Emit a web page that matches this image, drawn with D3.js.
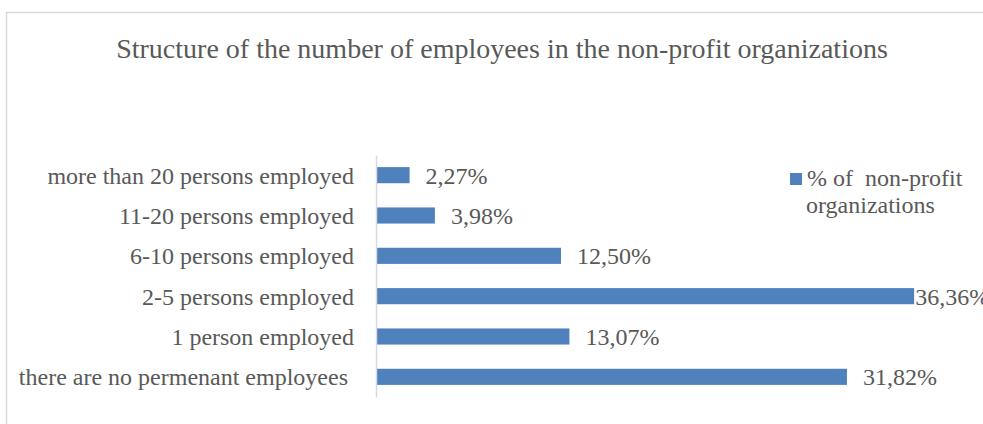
<!DOCTYPE html>
<html>
<head>
<meta charset="utf-8">
<script src="https://cdn.jsdelivr.net/npm/d3@7"></script>
</head>
<body style="margin:0;padding:0;background:#fff">
<svg id="chart" width="983" height="424" style="display:block"></svg>
<script>
const title = "Structure of the number of employees in the non-profit organizations";
const categories = [
  "more than 20 persons employed",
  "11-20 persons employed",
  "6-10 persons employed",
  "2-5 persons employed",
  "1 person employed",
  "there are no permenant employees "
];
const values = [2.27, 3.98, 12.50, 36.36, 13.07, 31.82];
const seriesName = ["% of  non-profit", "organizations"];
const xDomain = [0, 40];

const W = 983, H = 424;
const FONT = "'Liberation Serif', 'Times New Roman', serif";
const TXT = "#595959";
const svg = d3.select("#chart");

// chart frame
svg.append("rect")
  .attr("x", 6.5).attr("y", 12.5)
  .attr("width", 1100).attr("height", 600)
  .attr("fill", "#fff").attr("stroke", "#d9d9d9").attr("stroke-width", 1.5);

// title
svg.append("text")
  .attr("x", 502).attr("y", 58)
  .attr("text-anchor", "middle")
  .style("font-family", FONT).style("font-size", "28px").style("fill", TXT)
  .text(title);

const x = d3.scaleLinear().domain(xDomain).range([376, 968]);
const y = d3.scaleBand().domain(categories).range([155, 397])
  .paddingInner(0.6).paddingOuter(0.3);

const loc = d3.formatLocale({decimal: ",", thousands: " ", grouping: [3], currency: ["", ""]});
const fmt = v => loc.format(".2f")(v) + "%";

// bars
svg.append("g").selectAll("rect").data(values).join("rect")
  .attr("x", x(0))
  .attr("y", (d, i) => y(categories[i]))
  .attr("width", d => x(d) - x(0))
  .attr("height", y.bandwidth())
  .attr("fill", "#4f81bd");

// axis
const axis = svg.append("g")
  .attr("transform", `translate(${x(0)},0)`)
  .call(d3.axisLeft(y).tickSize(0).tickPadding(22));
axis.attr("font-family", null).attr("font-size", null);
axis.select(".domain").attr("stroke", "#d9d9d9").attr("stroke-width", 1.5);
axis.selectAll(".tick text")
  .style("font-family", FONT)
  .style("font-size", "24px")
  .style("white-space", "pre")
  .attr("fill", TXT)
  .attr("dy", "0.36em");

// value labels
const lbl = svg.append("g").selectAll("text").data(values).join("text")
  .attr("y", (d, i) => y(categories[i]) + y.bandwidth() / 2)
  .attr("dy", "0.36em")
  .style("font-family", FONT).style("font-size", "24px").style("fill", TXT)
  .text(d => fmt(d));
lbl.each(function(d) {
  const w = this.getComputedTextLength();
  let lx = x(d) + 16;
  if (lx + w > W) lx = x(d) + 1;
  d3.select(this).attr("x", lx);
});

// legend
const lg = svg.append("g");
lg.append("rect").attr("x", 790).attr("y", 173).attr("width", 12).attr("height", 12).attr("fill", "#4f81bd");
const lt = lg.append("text").attr("x", 807).attr("y", 186)
  .style("font-family", FONT).style("font-size", "24px").style("fill", TXT).style("white-space", "pre");
lt.append("tspan").attr("x", 807).text(seriesName[0]);
lt.append("tspan").attr("x", 806).attr("dy", 27).text(seriesName[1]);
</script>
</body>
</html>
